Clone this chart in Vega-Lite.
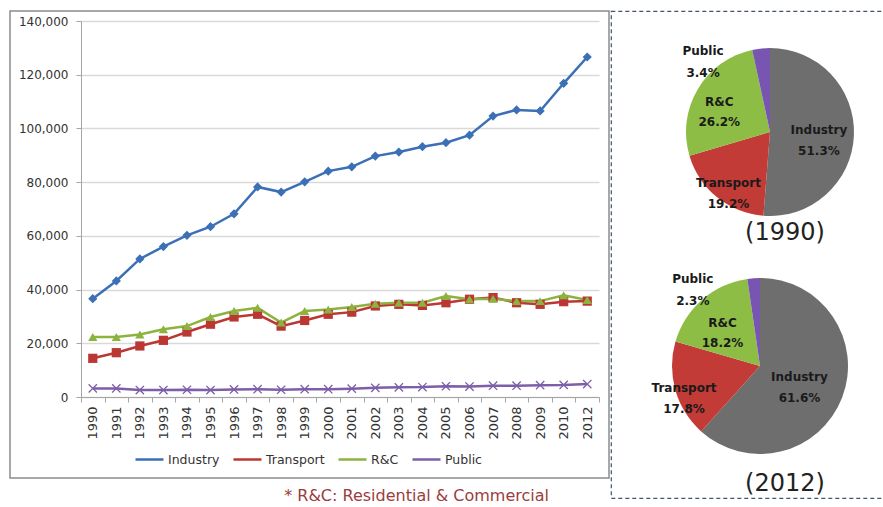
{
  "$schema": "https://vega.github.io/schema/vega-lite/v6.json",
  "background": "white",
  "padding": {"left": 3, "top": 10, "right": 0, "bottom": 0},
  "spacing": 0,
  "config": {
    "font": "DejaVu Sans",
    "axis": {"labelFont": "DejaVu Sans"},
    "legend": {"labelFont": "DejaVu Sans"}
  },
  "resolve": {
    "scale": {"x": "independent", "y": "independent", "color": "independent", "fill": "independent", "stroke": "independent", "shape": "independent", "radius": "independent", "theta": "independent"}
  },
  "datasets": {
    "energy": [
      {"Year": 1990, "Sector": "Industry", "Value": 36600}, {"Year": 1991, "Sector": "Industry", "Value": 43200},
      {"Year": 1992, "Sector": "Industry", "Value": 51400}, {"Year": 1993, "Sector": "Industry", "Value": 56000},
      {"Year": 1994, "Sector": "Industry", "Value": 60200}, {"Year": 1995, "Sector": "Industry", "Value": 63400},
      {"Year": 1996, "Sector": "Industry", "Value": 68200}, {"Year": 1997, "Sector": "Industry", "Value": 78200},
      {"Year": 1998, "Sector": "Industry", "Value": 76300}, {"Year": 1999, "Sector": "Industry", "Value": 80100},
      {"Year": 2000, "Sector": "Industry", "Value": 84100}, {"Year": 2001, "Sector": "Industry", "Value": 85700},
      {"Year": 2002, "Sector": "Industry", "Value": 89700}, {"Year": 2003, "Sector": "Industry", "Value": 91200},
      {"Year": 2004, "Sector": "Industry", "Value": 93200}, {"Year": 2005, "Sector": "Industry", "Value": 94700},
      {"Year": 2006, "Sector": "Industry", "Value": 97500}, {"Year": 2007, "Sector": "Industry", "Value": 104600},
      {"Year": 2008, "Sector": "Industry", "Value": 106900}, {"Year": 2009, "Sector": "Industry", "Value": 106500},
      {"Year": 2010, "Sector": "Industry", "Value": 116800}, {"Year": 2012, "Sector": "Industry", "Value": 126600},
      {"Year": 1990, "Sector": "Transport", "Value": 14400}, {"Year": 1991, "Sector": "Transport", "Value": 16500},
      {"Year": 1992, "Sector": "Transport", "Value": 19000}, {"Year": 1993, "Sector": "Transport", "Value": 21100},
      {"Year": 1994, "Sector": "Transport", "Value": 24200}, {"Year": 1995, "Sector": "Transport", "Value": 27100},
      {"Year": 1996, "Sector": "Transport", "Value": 29800}, {"Year": 1997, "Sector": "Transport", "Value": 30800},
      {"Year": 1998, "Sector": "Transport", "Value": 26400}, {"Year": 1999, "Sector": "Transport", "Value": 28500},
      {"Year": 2000, "Sector": "Transport", "Value": 30800}, {"Year": 2001, "Sector": "Transport", "Value": 31600},
      {"Year": 2002, "Sector": "Transport", "Value": 33900}, {"Year": 2003, "Sector": "Transport", "Value": 34500},
      {"Year": 2004, "Sector": "Transport", "Value": 34100}, {"Year": 2005, "Sector": "Transport", "Value": 35100},
      {"Year": 2006, "Sector": "Transport", "Value": 36400}, {"Year": 2007, "Sector": "Transport", "Value": 37000},
      {"Year": 2008, "Sector": "Transport", "Value": 35100}, {"Year": 2009, "Sector": "Transport", "Value": 34500},
      {"Year": 2010, "Sector": "Transport", "Value": 35500}, {"Year": 2012, "Sector": "Transport", "Value": 35700},
      {"Year": 1990, "Sector": "R&C", "Value": 22300}, {"Year": 1991, "Sector": "R&C", "Value": 22300},
      {"Year": 1992, "Sector": "R&C", "Value": 23300}, {"Year": 1993, "Sector": "R&C", "Value": 25200},
      {"Year": 1994, "Sector": "R&C", "Value": 26400}, {"Year": 1995, "Sector": "R&C", "Value": 29800},
      {"Year": 1996, "Sector": "R&C", "Value": 32000}, {"Year": 1997, "Sector": "R&C", "Value": 33200},
      {"Year": 1998, "Sector": "R&C", "Value": 27700}, {"Year": 1999, "Sector": "R&C", "Value": 32000},
      {"Year": 2000, "Sector": "R&C", "Value": 32600}, {"Year": 2001, "Sector": "R&C", "Value": 33500},
      {"Year": 2002, "Sector": "R&C", "Value": 34700}, {"Year": 2003, "Sector": "R&C", "Value": 35100},
      {"Year": 2004, "Sector": "R&C", "Value": 35100}, {"Year": 2005, "Sector": "R&C", "Value": 37600},
      {"Year": 2006, "Sector": "R&C", "Value": 36400}, {"Year": 2007, "Sector": "R&C", "Value": 36600},
      {"Year": 2008, "Sector": "R&C", "Value": 35700}, {"Year": 2009, "Sector": "R&C", "Value": 35700},
      {"Year": 2010, "Sector": "R&C", "Value": 37900}, {"Year": 2012, "Sector": "R&C", "Value": 36100},
      {"Year": 1990, "Sector": "Public", "Value": 3200}, {"Year": 1991, "Sector": "Public", "Value": 3200},
      {"Year": 1992, "Sector": "Public", "Value": 2600}, {"Year": 1993, "Sector": "Public", "Value": 2600},
      {"Year": 1994, "Sector": "Public", "Value": 2700}, {"Year": 1995, "Sector": "Public", "Value": 2600},
      {"Year": 1996, "Sector": "Public", "Value": 2800}, {"Year": 1997, "Sector": "Public", "Value": 2900},
      {"Year": 1998, "Sector": "Public", "Value": 2700}, {"Year": 1999, "Sector": "Public", "Value": 2900},
      {"Year": 2000, "Sector": "Public", "Value": 2900}, {"Year": 2001, "Sector": "Public", "Value": 3100},
      {"Year": 2002, "Sector": "Public", "Value": 3400}, {"Year": 2003, "Sector": "Public", "Value": 3600},
      {"Year": 2004, "Sector": "Public", "Value": 3700}, {"Year": 2005, "Sector": "Public", "Value": 4000},
      {"Year": 2006, "Sector": "Public", "Value": 3900}, {"Year": 2007, "Sector": "Public", "Value": 4200},
      {"Year": 2008, "Sector": "Public", "Value": 4200}, {"Year": 2009, "Sector": "Public", "Value": 4400},
      {"Year": 2010, "Sector": "Public", "Value": 4500}, {"Year": 2012, "Sector": "Public", "Value": 4800}
    ],
    "shares": [
      {"Year": 1990, "Sector": "Industry", "Share": 51.3},
      {"Year": 1990, "Sector": "Transport", "Share": 19.2},
      {"Year": 1990, "Sector": "R&C", "Share": 26.2},
      {"Year": 1990, "Sector": "Public", "Share": 3.4},
      {"Year": 2012, "Sector": "Industry", "Share": 61.6},
      {"Year": 2012, "Sector": "Transport", "Share": 17.8},
      {"Year": 2012, "Sector": "R&C", "Share": 18.2},
      {"Year": 2012, "Sector": "Public", "Share": 2.3}
    ]
  },
  "hconcat": [
    {
      "width": 599,
      "height": 467,
      "view": {"stroke": "#8c8c8c", "strokeWidth": 1.5, "fill": "white"},
      "title": {
        "text": "* R&C: Residential & Commercial",
        "orient": "bottom", "anchor": "end", "offset": 10, "dx": -60,
        "font": "DejaVu Sans", "fontSize": 16, "fontWeight": "normal", "color": "#9c3c3c"
      },
      "data": {"name": "energy"},
      "transform": [{"calculate": "datum.Sector", "as": "Series"}],
      "encoding": {
        "x": {
          "field": "Year", "type": "ordinal",
          "scale": {"type": "band", "range": [71, 589], "paddingInner": 0, "paddingOuter": 0},
          "axis": {
            "title": null, "offset": -81, "labelAngle": -90, "labelFontSize": 13, "labelColor": "#333333",
            "labelPadding": 4, "tickBand": "extent", "tickSize": 5, "tickColor": "#a6a6a6",
            "domainColor": "#a6a6a6", "grid": false
          }
        },
        "y": {
          "field": "Value", "type": "quantitative",
          "scale": {"domain": [0, 140000], "range": [386, 10], "nice": false},
          "axis": {
            "title": null, "offset": -71, "values": [0, 20000, 40000, 60000, 80000, 100000, 120000, 140000],
            "labelExpr": "format(datum.value, ',')", "labelFontSize": 12, "labelColor": "#333333", "labelPadding": 8,
            "tickSize": 5, "tickColor": "#a6a6a6", "domainColor": "#a6a6a6",
            "gridColor": "#d9d9d9", "gridWidth": 1.5
          }
        }
      },
      "layer": [
        {
          "mark": {"type": "line", "strokeWidth": 2.5},
          "encoding": {
            "stroke": {
              "field": "Sector", "type": "nominal",
              "scale": {"domain": ["Industry", "Transport", "R&C", "Public"], "range": ["#3b6fb6", "#bb3733", "#8db33f", "#7d5ea8"]},
              "legend": {
                "title": null, "orient": "none", "legendX": 124, "legendY": 433, "direction": "horizontal", "columns": 4,
                "symbolType": "stroke", "symbolSize": 784, "symbolStrokeWidth": 2.5, "labelFontSize": 12.5, "labelColor": "#333333",
                "labelOffset": 3, "columnPadding": 8, "padding": 0
              }
            }
          }
        },
        {
          "mark": {"type": "point", "filled": true, "size": 85, "opacity": 1, "strokeWidth": 0},
          "encoding": {
            "fill": {
              "field": "Series", "type": "nominal",
              "scale": {"range": ["#3b6fb6", "#7d5ea8", "#8db33f", "#bb3733"]},
              "legend": null
            },
            "shape": {
              "field": "Series", "type": "nominal",
              "scale": {"range": ["diamond", "M-1,-0.8L-0.8,-1L0,-0.2L0.8,-1L1,-0.8L0.2,0L1,0.8L0.8,1L0,0.2L-0.8,1L-1,0.8L-0.2,0Z", "triangle-up", "square"]},
              "legend": null
            }
          }
        }
      ]
    },
    {
      "width": 280,
      "height": 487,
      "view": {"stroke": "#44546a", "strokeDash": [4, 3], "strokeWidth": 1.2, "fill": null},
      "data": {"name": "shares"},
      "transform": [
        {"calculate": "indexof(['Industry','Transport','R&C','Public'], datum.Sector)", "as": "rank"},
        {"calculate": "datum.Sector + '\\n' + format(datum.Share, '.1f') + '%'", "as": "label"},
        {"calculate": "'(' + datum.Year + ')'", "as": "caption"}
      ],
      "resolve": {"scale": {"x": "independent", "y": "independent", "radius": "independent"}},
      "encoding": {
        "x": {"field": "Year", "type": "ordinal", "scale": {"type": "point", "range": [159, 149], "padding": 0}, "axis": null},
        "y": {"field": "Year", "type": "ordinal", "scale": {"type": "point", "range": [121, 355], "padding": 0}, "axis": null},
        "theta": {"field": "Share", "type": "quantitative", "stack": "normalize"},
        "order": {"field": "rank", "type": "quantitative"}
      },
      "layer": [
        {
          "mark": {"type": "arc", "stroke": null},
          "encoding": {
            "radius": {"field": "Year", "type": "quantitative", "scale": {"type": "linear", "domain": [1990, 2012], "range": [84, 88], "zero": false}},
            "radius2": {"value": 0},
            "color": {
              "field": "Sector", "type": "nominal",
              "scale": {"domain": ["Industry", "Transport", "R&C", "Public"], "range": ["#6e6e6e", "#c23b37", "#8ebd46", "#7855b0"]},
              "legend": null
            }
          }
        },
        {
          "mark": {"type": "text", "fontWeight": "bold", "fontSize": 12, "lineBreak": "\n", "lineHeight": 21, "color": "#1a1a1a", "baseline": "middle", "thetaOffset": -0.09},
          "encoding": {
            "radius": {"field": "Year", "type": "quantitative", "scale": {"type": "linear", "domain": [1990, 2012], "range": [49, 41], "zero": false}},
            "text": {"condition": {"test": "datum.Sector === 'Industry'", "field": "label"}, "value": ""}
          }
        },
        {
          "mark": {"type": "text", "fontWeight": "bold", "fontSize": 12, "lineBreak": "\n", "lineHeight": 21, "color": "#1a1a1a", "baseline": "middle"},
          "encoding": {
            "radius": {"field": "Year", "type": "quantitative", "scale": {"type": "linear", "domain": [1990, 2012], "range": [66, 79], "zero": false}},
            "text": {"condition": {"test": "datum.Sector === 'Transport'", "field": "label"}, "value": ""}
          }
        },
        {
          "mark": {"type": "text", "fontWeight": "bold", "fontSize": 12, "lineBreak": "\n", "lineHeight": 20, "color": "#1a1a1a", "baseline": "middle"},
          "encoding": {
            "radius": {"field": "Year", "type": "quantitative", "scale": {"type": "linear", "domain": [1990, 2012], "range": [59, 57], "zero": false}},
            "text": {"condition": {"test": "datum.Sector === 'R&C'", "field": "label"}, "value": ""}
          }
        },
        {
          "mark": {"type": "text", "fontWeight": "bold", "fontSize": 12, "lineBreak": "\n", "lineHeight": 22, "color": "#1a1a1a", "baseline": "middle", "thetaOffset": -0.585},
          "encoding": {
            "radius": {"field": "Year", "type": "quantitative", "scale": {"type": "linear", "domain": [1990, 2012], "range": [105, 110], "zero": false}},
            "text": {"condition": {"test": "datum.Sector === 'Public'", "field": "label"}, "value": ""}
          }
        },
        {
          "transform": [{"filter": "datum.Sector === 'Industry'"}],
          "mark": {"type": "text", "fontSize": 24, "color": "#222222", "baseline": "middle"},
          "encoding": {
            "x": {"field": "Year", "type": "ordinal", "scale": {"type": "point", "range": [174, 174], "padding": 0}, "axis": null},
            "y": {"field": "Year", "type": "ordinal", "scale": {"type": "point", "range": [222, 473], "padding": 0}, "axis": null},
            "theta": null,
            "order": null,
            "text": {"field": "caption"}
          }
        }
      ]
    }
  ]
}
